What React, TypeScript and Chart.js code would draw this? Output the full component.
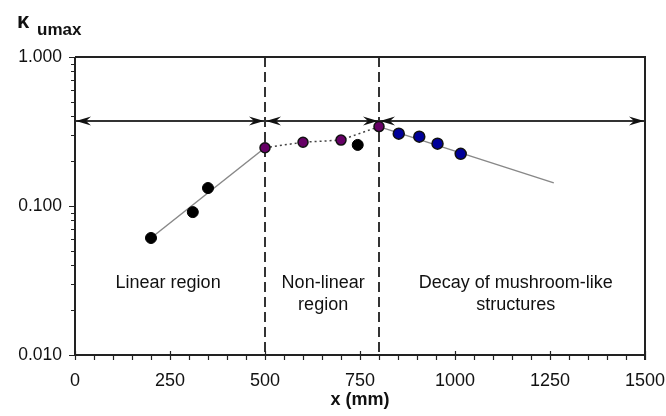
import { useEffect, useRef } from "react";
import { Chart, registerables } from "chart.js";

Chart.register(...registerables);

// ---- data ----
const linearX = [200, 310, 350];
const linearY = [0.061, 0.091, 0.132];
const outlierX = [744];
const outlierY = [0.257];
const transX = [500, 600, 700, 800];
const transY = [0.246, 0.268, 0.277, 0.341];
const decayX = [852, 906, 954, 1015];
const decayY = [0.306, 0.292, 0.262, 0.224];
const linFitX = [200, 500];
const linFitY = [0.061, 0.246];
const decayFitX = [800, 1260];
const decayFitY = [0.341, 0.143];

const regionBounds = [0, 500, 800, 1500];
const dividerX = [500, 800];
const arrowLevel = 0.372;
const regionLabels = [
  ["Linear region"],
  ["Non-linear", "region"],
  ["Decay of mushroom-like", "structures"],
];
const regionLabelX = [245, 653, 1160];
const regionLabelY = 0.0306;

const xTickValues = [0, 250, 500, 750, 1000, 1250, 1500];
const xMinorStep = 50;
const yTickValues = [0.01, 0.1, 1];
const yMinorValues = [
  0.02, 0.03, 0.04, 0.05, 0.06, 0.07, 0.08, 0.09,
  0.2, 0.3, 0.4, 0.5, 0.6, 0.7, 0.8, 0.9,
];

const FONT = "'Liberation Sans', Arial, sans-serif";
const INK = "#111";

const pts = (xs: number[], ys: number[]) => xs.map((x, i) => ({ x, y: ys[i] }));

function arrowHead(ctx: CanvasRenderingContext2D, tipX: number, y: number, dir: number) {
  ctx.beginPath();
  ctx.moveTo(tipX, y);
  ctx.lineTo(tipX - dir * 15, y - 4.5);
  ctx.lineTo(tipX - dir * 10, y);
  ctx.lineTo(tipX - dir * 15, y + 4.5);
  ctx.closePath();
  ctx.fill();
}

const overlay = {
  id: "overlay",
  beforeDatasetsDraw(chart: any) {
    const { ctx, chartArea: a, scales } = chart;
    const x = scales.x;
    const y = scales.y;
    ctx.save();
    ctx.strokeStyle = "#333";
    ctx.lineWidth = 2;
    ctx.setLineDash([10, 5]);
    for (const d of dividerX) {
      const px = Math.round(x.getPixelForValue(d));
      ctx.beginPath();
      ctx.moveTo(px, a.top);
      ctx.lineTo(px, a.bottom);
      ctx.stroke();
    }
    ctx.setLineDash([]);
    const ay = Math.round(y.getPixelForValue(arrowLevel));
    ctx.strokeStyle = "#333";
    ctx.lineWidth = 2;
    ctx.beginPath();
    ctx.moveTo(x.getPixelForValue(regionBounds[0]), ay);
    ctx.lineTo(x.getPixelForValue(regionBounds[regionBounds.length - 1]), ay);
    ctx.stroke();
    ctx.fillStyle = "#111";
    for (let i = 0; i < regionBounds.length - 1; i++) {
      const l = x.getPixelForValue(regionBounds[i]);
      const r = x.getPixelForValue(regionBounds[i + 1]);
      arrowHead(ctx, l + 1, ay, -1);
      arrowHead(ctx, r - 1, ay, 1);
    }
    ctx.fillStyle = INK;
    ctx.font = `18px ${FONT}`;
    ctx.textAlign = "center";
    ctx.textBaseline = "middle";
    const ly = y.getPixelForValue(regionLabelY);
    regionLabels.forEach((lines, i) => {
      const lx = x.getPixelForValue(regionLabelX[i]);
      lines.forEach((t, j) => ctx.fillText(t, lx, ly + j * 22));
    });
    ctx.restore();
  },
  afterDraw(chart: any) {
    const { ctx, chartArea: a, scales } = chart;
    const x = scales.x;
    const y = scales.y;
    ctx.save();
    ctx.strokeStyle = "#222";
    ctx.lineWidth = 2;
    ctx.beginPath();
    ctx.moveTo(a.left, a.top);
    ctx.lineTo(a.right, a.top);
    ctx.lineTo(a.right, a.bottom + 5);
    ctx.moveTo(a.left, a.top);
    ctx.lineTo(a.left, a.bottom);
    ctx.lineTo(a.right, a.bottom);
    ctx.stroke();
    ctx.lineWidth = 1.2;
    ctx.beginPath();
    for (let v = 0; v <= 1500; v += xMinorStep) {
      const px = Math.round(x.getPixelForValue(v)) + 0.5;
      const major = xTickValues.includes(v);
      ctx.moveTo(px, a.bottom + (major ? -4 : 0));
      ctx.lineTo(px, a.bottom + 5);
    }
    for (const v of yMinorValues) {
      const py = Math.round(y.getPixelForValue(v)) + 0.5;
      ctx.moveTo(a.left - 4, py);
      ctx.lineTo(a.left, py);
    }
    for (const v of yTickValues) {
      const py = Math.round(y.getPixelForValue(v)) + 0.5;
      ctx.moveTo(a.left - 6, py);
      ctx.lineTo(a.left, py);
    }
    ctx.stroke();
    ctx.fillStyle = INK;
    ctx.textAlign = "left";
    ctx.textBaseline = "alphabetic";
    ctx.font = `bold 22px ${FONT}`;
    ctx.fillText("κ", 17, 28);
    ctx.font = `bold 17px ${FONT}`;
    ctx.fillText("umax", 37, 35);
    ctx.restore();
  },
};

export default function App() {
  const ref = useRef<HTMLCanvasElement | null>(null);
  useEffect(() => {
    if (!ref.current) return;
    const chart = new Chart(ref.current, {
      type: "line",
      data: {
        datasets: [
          {
            data: pts(linearX, linearY),
            showLine: false,
            pointRadius: 5.5,
            pointBackgroundColor: "#000",
            pointBorderColor: "#000",
            order: 0,
          },
          {
            data: pts(outlierX, outlierY),
            showLine: false,
            pointRadius: 5.5,
            pointBackgroundColor: "#000",
            pointBorderColor: "#000",
            order: 0,
          },
          {
            data: pts(transX, transY),
            showLine: true,
            borderColor: "#444",
            borderWidth: 1.5,
            borderDash: [2, 3],
            pointRadius: 5,
            pointBorderWidth: 1.5,
            pointBackgroundColor: "#660066",
            pointBorderColor: "#111",
            order: 1,
          },
          {
            data: pts(decayX, decayY),
            showLine: false,
            pointRadius: 5.5,
            pointBorderWidth: 1.5,
            pointBackgroundColor: "#000099",
            pointBorderColor: "#111",
            order: 0,
          },
          {
            data: pts(linFitX, linFitY),
            showLine: true,
            borderColor: "#888",
            borderWidth: 1.5,
            pointRadius: 0,
            order: 5,
          },
          {
            data: pts(decayFitX, decayFitY),
            showLine: true,
            borderColor: "#888",
            borderWidth: 1.5,
            pointRadius: 0,
            order: 5,
          },
        ],
      } as any,
      options: {
        responsive: false,
        animation: false,
        events: [],
        layout: { padding: { top: 57, right: 21, left: 0, bottom: 0 } },
        plugins: { legend: { display: false }, tooltip: { enabled: false } },
        scales: {
          x: {
            type: "linear",
            min: 0,
            max: 1500,
            grid: { display: false, drawTicks: false },
            border: { display: false },
            ticks: {
              color: INK,
              font: { size: 18, family: FONT },
              padding: 15,
              maxRotation: 0,
              autoSkip: false,
              callback: (v: any) => String(v),
            },
            afterBuildTicks: (s: any) => {
              s.ticks = xTickValues.map((v) => ({ value: v }));
            },
            afterFit: (s: any) => {
              s.height = 61;
              s.paddingLeft = 0;
              s.paddingRight = 21;
            },
            title: {
              display: true,
              text: "x (mm)",
              color: INK,
              font: { size: 18, weight: "bold", family: FONT },
              padding: { top: 0, bottom: 5 },
            },
          },
          y: {
            type: "logarithmic",
            min: 0.01,
            max: 1,
            grid: { display: false, drawTicks: false },
            border: { display: false },
            ticks: {
              color: INK,
              font: { size: 17.5, family: FONT },
              padding: 13,
              autoSkip: false,
              callback: (v: any) => Number(v).toFixed(3),
            },
            afterBuildTicks: (s: any) => {
              s.ticks = yTickValues.map((v) => ({ value: v }));
            },
            afterFit: (s: any) => {
              s.width = 75;
            },
          },
        },
      } as any,
      plugins: [overlay],
    });
    return () => chart.destroy();
  }, []);
  return (
    <div style={{ position: "fixed", left: 0, top: 0, width: 666, height: 416, background: "#fff" }}>
      <canvas ref={ref} width={666} height={416} />
    </div>
  );
}
